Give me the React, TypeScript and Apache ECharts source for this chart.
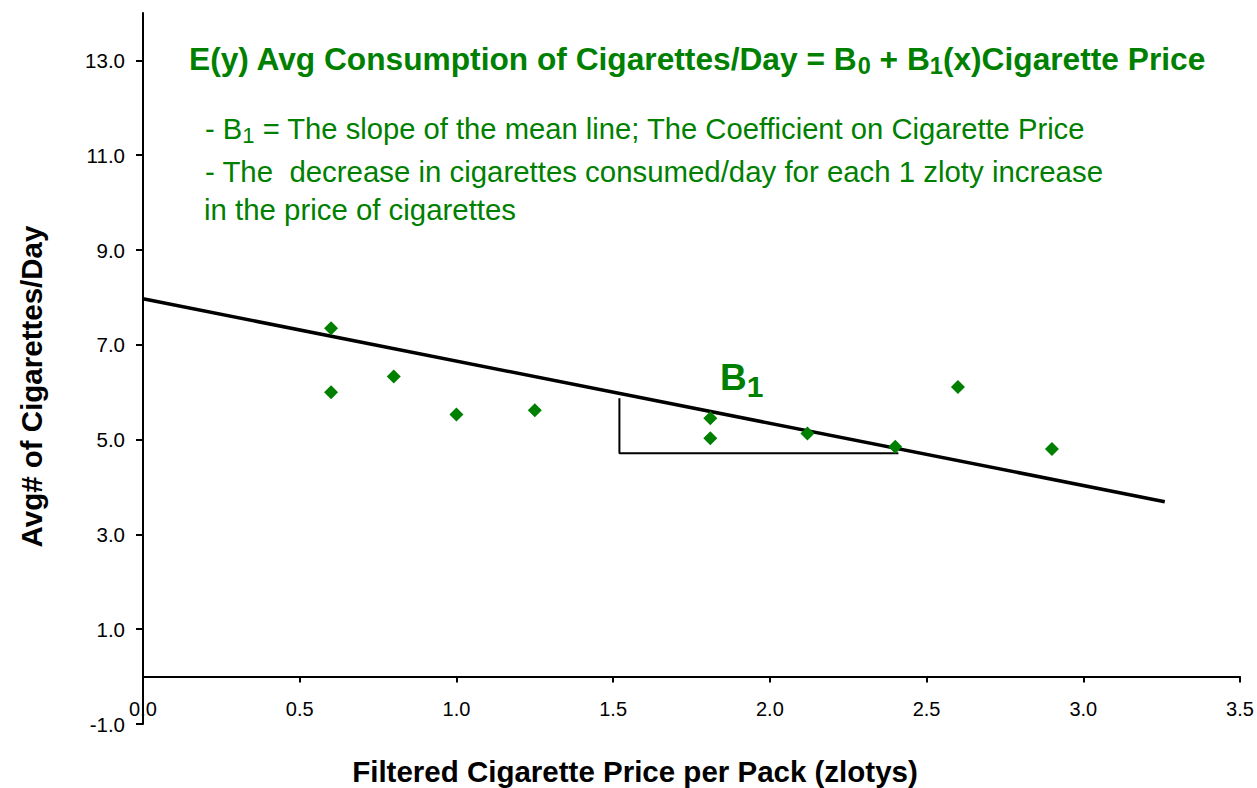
import React, { useEffect, useRef } from "react";
import * as echarts from "echarts";

const priceX = [0.6, 0.6, 0.8, 1.0, 1.25, 1.81, 1.81, 2.12, 2.4, 2.6, 2.9];
const consumptionY = [7.35, 6.0, 6.33, 5.53, 5.62, 5.03, 5.45, 5.13, 4.85, 6.11, 4.8];
const meanLineX = [0, 3.26];
const meanLineY = [7.97, 3.69];
const slopeX = [1.52, 1.52, 2.41];
const slopeY = [5.87, 4.71, 4.71];
const yTicks = [-1, 1, 3, 5, 7, 9, 11, 13];

const titleText = "E(y) Avg Consumption of Cigarettes/Day = B";
const note1 = " = The slope of the mean line; The Coefficient on Cigarette Price";
const note2 = "- The  decrease in cigarettes consumed/day for each 1 zloty increase";
const note3 = "in the price of cigarettes";
const xTitle = "Filtered Cigarette Price per Pack (zlotys)";
const yTitle = "Avg# of Cigarettes/Day";

const GREEN = "#008000";
const FAMILY = "Liberation Sans";
const FONT = "'Liberation Sans', Arial, sans-serif";
const CENTRAL = 0.3465;

type Seg = { text: string; size: number; bold?: boolean; dy?: number };

function measure(ctx: CanvasRenderingContext2D, s: Seg) {
  ctx.font = `${s.bold ? "bold " : ""}${s.size}px "${FAMILY}"`;
  return ctx.measureText(s.text).width;
}

function run(ctx: CanvasRenderingContext2D, segs: Seg[], x0: number, baseline: number, color: string) {
  const out: any[] = [];
  let x = x0;
  for (const s of segs) {
    const yb = baseline + (s.dy || 0);
    out.push({
      type: "text",
      x,
      y: yb - CENTRAL * s.size,
      silent: true,
      style: {
        text: s.text,
        fontSize: s.size,
        fontWeight: s.bold ? "bold" : "normal",
        fontFamily: FONT,
        fill: color,
        align: "left",
        verticalAlign: "middle",
      },
    });
    x += measure(ctx, s);
  }
  return out;
}

export default function App() {
  const ref = useRef<HTMLDivElement>(null);
  useEffect(() => {
    if (!ref.current) return;
    const chart = echarts.init(ref.current, null, { renderer: "svg" });
    const ctx = document.createElement("canvas").getContext("2d") as CanvasRenderingContext2D;

    const graphics: any[] = [
      ...run(
        ctx,
        [
          { text: titleText, size: 31.7, bold: true },
          { text: "0", size: 23.5, bold: true, dy: 5 },
          { text: " + B", size: 31.7, bold: true },
          { text: "1", size: 23.5, bold: true, dy: 5 },
          { text: "(x)Cigarette Price", size: 31.7, bold: true },
        ],
        189,
        69.5,
        GREEN
      ),
      ...run(
        ctx,
        [
          { text: "- B", size: 29.2 },
          { text: "1", size: 22, dy: 4 },
          { text: note1, size: 29.2 },
        ],
        205,
        139,
        GREEN
      ),
      ...run(ctx, [{ text: note2, size: 29.4 }], 205, 181.7, GREEN),
      ...run(ctx, [{ text: note3, size: 29.4 }], 204, 219.5, GREEN),
      ...run(
        ctx,
        [
          { text: "B", size: 37, bold: true },
          { text: "1", size: 30, bold: true, dy: 7 },
        ],
        720,
        390,
        GREEN
      ),
      {
        type: "text",
        x: 635,
        y: 771.5,
        silent: true,
        style: {
          text: xTitle,
          fontSize: 29.5,
          fontWeight: "bold",
          fontFamily: FONT,
          fill: "#000",
          align: "center",
          verticalAlign: "middle",
        },
      },
      {
        type: "text",
        x: 31,
        y: 386.5,
        rotation: Math.PI / 2,
        silent: true,
        style: {
          text: yTitle,
          fontSize: 29.5,
          fontWeight: "bold",
          fontFamily: FONT,
          fill: "#000",
          align: "center",
          verticalAlign: "middle",
        },
      },
    ];

    const option: any = {
      animation: false,
      backgroundColor: "#ffffff",
      textStyle: { fontFamily: FONT },
      grid: { left: 143, right: 17, top: 13, bottom: 64, containLabel: false, outerBoundsMode: "none" },
      xAxis: {
        type: "value",
        min: 0,
        max: 3.5,
        interval: 0.5,
        axisLine: { onZero: true, lineStyle: { color: "#000", width: 2 } },
        axisTick: { show: true, length: 6, inside: false, lineStyle: { color: "#000", width: 2 } },
        axisLabel: {
          fontSize: 20,
          color: "#000",
          margin: -25,
          fontFamily: FONT,
          formatter: (v: number) => v.toFixed(1),
        },
        splitLine: { show: false },
      },
      yAxis: {
        type: "value",
        min: -1,
        max: 14,
        axisLine: { onZero: false, lineStyle: { color: "#000", width: 2 } },
        axisTick: {
          show: true,
          length: 7,
          lineStyle: { color: "#000", width: 2 },
          customValues: yTicks,
        },
        axisLabel: {
          fontSize: 20.5,
          color: "#000",
          margin: 18,
          fontFamily: FONT,
          customValues: yTicks,
          formatter: (v: number) => v.toFixed(1),
        },
        splitLine: { show: false },
      },
      series: [
        {
          type: "line",
          data: meanLineX.map((x, i) => [x, meanLineY[i]]),
          symbol: "none",
          lineStyle: { color: "#000", width: 3.5 },
          z: 3,
        },
        {
          type: "line",
          data: slopeX.map((x, i) => [x, slopeY[i]]),
          symbol: "none",
          lineStyle: { color: "#000", width: 2 },
          z: 2,
        },
        {
          type: "scatter",
          data: priceX.map((x, i) => [x, consumptionY[i]]),
          symbol: "diamond",
          symbolSize: 14,
          itemStyle: { color: GREEN, opacity: 1 },
          z: 4,
        },
      ],
      graphic: graphics,
    };
    chart.setOption(option);
    return () => chart.dispose();
  }, []);
  return (
    <div
      ref={ref}
      style={{ position: "fixed", left: 0, top: 0, width: 1257, height: 788, background: "#fff" }}
    />
  );
}
